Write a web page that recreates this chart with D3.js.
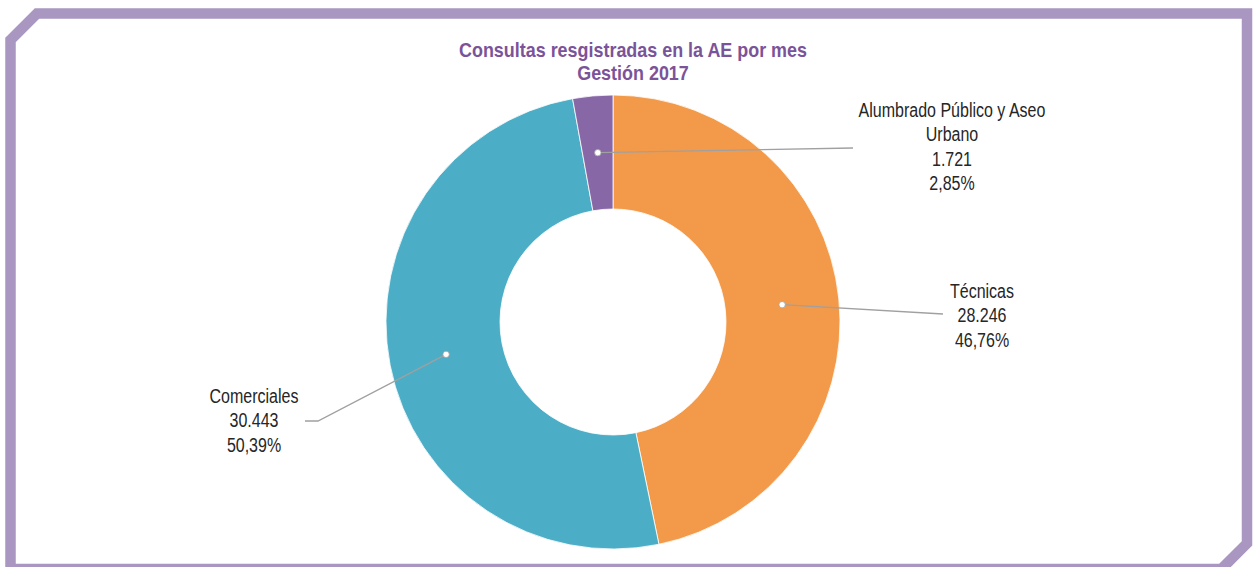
<!DOCTYPE html>
<html>
<head>
<meta charset="utf-8">
<script src="https://cdn.jsdelivr.net/npm/d3@7"></script>
<style>
  html, body { margin: 0; padding: 0; background: #fff; }
  svg { display: block; }
  text { font-family: "Liberation Sans", Arial, sans-serif; }
</style>
</head>
<body>
<svg id="chart"></svg>
<script>
const categories = ['Técnicas', 'Comerciales', 'Alumbrado Público y Aseo Urbano'];
const values = [28246, 30443, 1721];
const percents = ['46,76%', '50,39%', '2,85%'];
const valueLabels = ['28.246', '30.443', '1.721'];
const labelLines = [['Técnicas'], ['Comerciales'], ['Alumbrado Público y Aseo', 'Urbano']];

const width = 1253;
const height = 567;
const cx = 613;
const cy = 322;
const outerR = 227;
const innerR = 113;

const color = d3.scaleOrdinal()
  .domain(categories)
  .range(['#f39a4a', '#4badc6', '#8767a6']);

const svg = d3.select('#chart')
  .attr('width', width)
  .attr('height', height);

// frame with cut corners
svg.append('path')
  .attr('d', 'M10.5,569 L10.5,40 L37,13.5 L1247,13.5 L1247,543.4 L1221.4,569 Z')
  .attr('fill', 'none')
  .attr('stroke', '#a996c1')
  .attr('stroke-width', 10.5);

// title, slightly condensed
const title = svg.append('text')
  .attr('transform', 'translate(633,0) scale(0.92,1)')
  .attr('text-anchor', 'middle')
  .attr('fill', '#7b5399')
  .attr('font-weight', 'bold')
  .attr('font-size', 19.5);
title.append('tspan').attr('x', 0).attr('y', 57).text('Consultas resgistradas en la AE por mes');
title.append('tspan').attr('x', 0).attr('y', 80).text('Gestión 2017');

const pie = d3.pie().sort(null).value(d => d);
const arcs = pie(values);

const arc = d3.arc().innerRadius(innerR).outerRadius(outerR);

const g = svg.append('g').attr('transform', `translate(${cx},${cy})`);

g.selectAll('path.slice')
  .data(arcs)
  .enter().append('path')
  .attr('class', 'slice')
  .attr('d', arc)
  .attr('fill', (d, i) => color(categories[i]))
  .attr('stroke', '#fff')
  .attr('stroke-width', 0.8);

// leader line ends and label anchors
const leaderEnds = [
  [[943, 314]],
  [[318, 421], [305, 421]],
  [[853, 148]]
];
const labelPos = [[982, 298], [254, 403], [952, 117]];
const lineH = 24.5;

arcs.forEach((d, i) => {
  const c = arc.centroid(d);
  const start = [cx + c[0], cy + c[1]];
  const pts = [start].concat(leaderEnds[i]);
  svg.append('path')
    .attr('d', d3.line()(pts))
    .attr('fill', 'none')
    .attr('stroke', '#a0a0a0')
    .attr('stroke-width', 1.3);
  svg.append('circle')
    .attr('cx', start[0])
    .attr('cy', start[1])
    .attr('r', 3.2)
    .attr('fill', '#fff')
    .attr('stroke', '#a0a0a0')
    .attr('stroke-width', 0.8);

  const lines = labelLines[i].concat([valueLabels[i], percents[i]]);
  const t = svg.append('text')
    .attr('transform', `translate(${labelPos[i][0]},0) scale(0.8,1)`)
    .attr('text-anchor', 'middle')
    .attr('fill', '#262626')
    .attr('font-size', 20);
  lines.forEach((s, k) => {
    t.append('tspan')
      .attr('x', 0)
      .attr('y', labelPos[i][1] + k * lineH)
      .text(s);
  });
});
</script>
</body>
</html>
